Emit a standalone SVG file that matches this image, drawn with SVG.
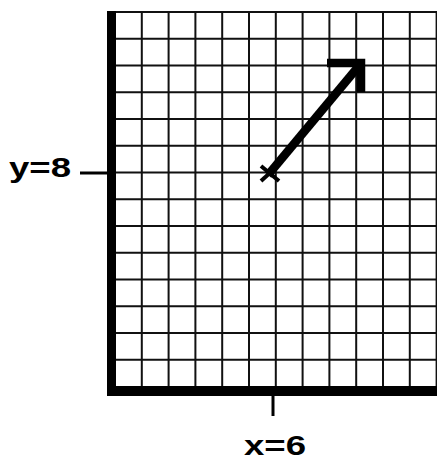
<svg xmlns="http://www.w3.org/2000/svg" width="437" height="460" viewBox="0 0 437 460">
  <style>
    .grid { stroke: #111; stroke-width: 2; fill: none; }
    .axis { stroke: #000; fill: none; }
    .tick { stroke: #000; stroke-width: 3; }
    .label { font-family: "Liberation Sans", Arial, sans-serif; font-weight: bold; font-size: 28px; fill: #000; }
    .arrow { stroke: #000; stroke-width: 8.5; fill: none; }
  </style>
  <rect width="437" height="460" fill="#fff"/>
  <g id="grid">
    <path class="grid" d="M116,12H437 M116,38.75H437 M116,65.5H437 M116,92.25H437 M116,119H437 M116,145.75H437 M116,172.5H437 M116,199.25H437 M116,226H437 M116,252.75H437 M116,279.5H437 M116,306.25H437 M116,333H437 M116,359.75H437"/>
    <path class="grid" d="M141.8,11V386 M168.6,11V386 M195.4,11V386 M222.2,11V386 M249,11V386 M275.8,11V386 M302.6,11V386 M329.4,11V386 M356.2,11V386 M383,11V386 M409.8,11V386 M436.6,11V386"/>
  </g>
  <g id="axes">
    <line class="axis" x1="111.5" y1="11" x2="111.5" y2="396" stroke-width="9"/>
    <line class="axis" x1="107" y1="391" x2="437" y2="391" stroke-width="10"/>
  </g>
  <g id="y-label">
    <line class="tick" x1="80" y1="173" x2="108" y2="173"/>
    <text class="label" x="9" y="177" textLength="62" lengthAdjust="spacingAndGlyphs">y=8</text>
  </g>
  <g id="x-label">
    <line class="tick" x1="273" y1="396" x2="273" y2="416"/>
    <text class="label" x="244" y="455" textLength="62" lengthAdjust="spacingAndGlyphs">x=6</text>
  </g>
  <g id="point">
    <line x1="261" y1="166" x2="279" y2="181" stroke="#000" stroke-width="4"/>
    <line x1="261" y1="181" x2="272" y2="171" stroke="#000" stroke-width="4"/>
  </g>
  <g id="connectors">
    <line class="arrow" x1="268" y1="175" x2="358" y2="67"/>
    <polyline class="arrow" points="327,63 361,63 361,92"/>
  </g>
</svg>
